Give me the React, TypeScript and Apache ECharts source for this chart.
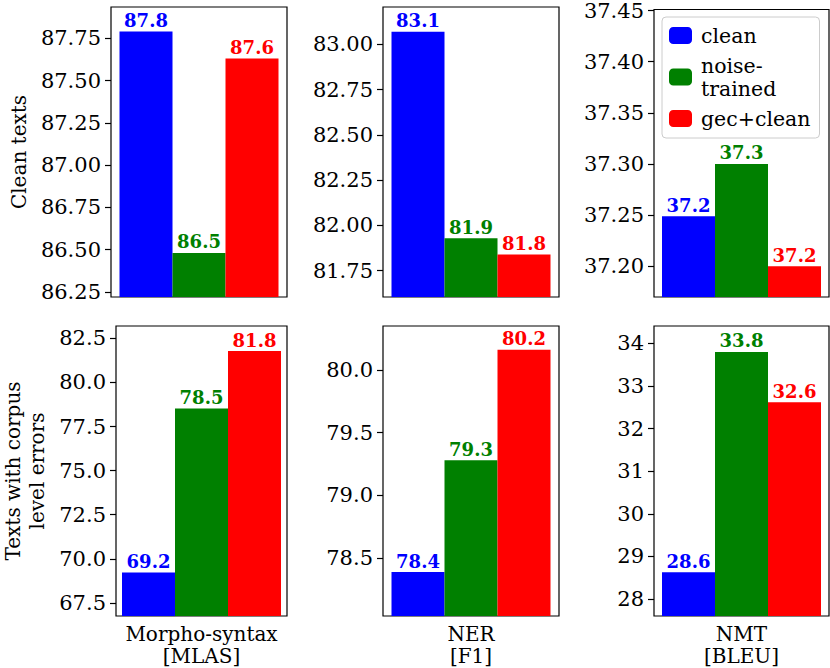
import React, { useEffect, useRef } from "react";
import * as echarts from "echarts";

// ---------- data ----------
const tasks = ["Morpho-syntax\n[MLAS]", "NER\n[F1]", "NMT\n[BLEU]"];
const seriesNames = ["clean", "noise-trained", "gec+clean"];
const seriesColors = ["#0000ff", "#008000", "#ff0000"];
const rowNames = ["Clean texts", "Texts with corpus\nlevel errors"];

// Clean texts row (per task)
const cleanRowClean = [87.79, 83.07, 37.249];
const cleanRowNoise = [86.48, 81.93, 37.3];
const cleanRowGec = [87.63, 81.84, 37.2];

// Texts with corpus level errors row (per task)
const noisyRowClean = [69.22, 78.39, 28.63];
const noisyRowNoise = [78.52, 79.28, 33.8];
const noisyRowGec = [81.78, 80.16, 32.62];

// y-axis ranges
const cleanRowMin = [86.219, 81.605, 37.17];
const cleanRowMax = [87.935, 83.206, 37.451];
const noisyRowMin = [66.76, 78.04, 27.6];
const noisyRowMax = [83.2, 80.35, 34.41];

// tick labels
const ticksMorphoClean = [86.25, 86.5, 86.75, 87.0, 87.25, 87.5, 87.75];
const ticksNerClean = [81.75, 82.0, 82.25, 82.5, 82.75, 83.0];
const ticksNmtClean = [37.2, 37.25, 37.3, 37.35, 37.4, 37.45];
const ticksMorphoNoisy = [67.5, 70.0, 72.5, 75.0, 77.5, 80.0, 82.5];
const ticksNerNoisy = [78.5, 79.0, 79.5, 80.0];
const ticksNmtNoisy = [28, 29, 30, 31, 32, 33, 34];

const cleanRowTicks = [ticksMorphoClean, ticksNerClean, ticksNmtClean];
const noisyRowTicks = [ticksMorphoNoisy, ticksNerNoisy, ticksNmtNoisy];
const cleanRowDecimals = [2, 2, 2];
const noisyRowDecimals = [1, 1, 0];

const FONT = "DejaVu Serif";

export default function App() {
  const ref = useRef<HTMLDivElement>(null);

  useEffect(() => {
    if (!ref.current) return;
    const chart = echarts.init(ref.current, null, { renderer: "svg" });

    const colLeft = [111, 383, 654];
    const colWidth = [176, 176, 175];
    const rowTop = [7, 326];
    const rowHeight = 290;

    const grids: any[] = [];
    const xAxes: any[] = [];
    const yAxes: any[] = [];
    const series: any[] = [];

    const rows = [
      {
        values: [cleanRowClean, cleanRowNoise, cleanRowGec],
        min: cleanRowMin,
        max: cleanRowMax,
        ticks: cleanRowTicks,
        dec: cleanRowDecimals,
      },
      {
        values: [noisyRowClean, noisyRowNoise, noisyRowGec],
        min: noisyRowMin,
        max: noisyRowMax,
        ticks: noisyRowTicks,
        dec: noisyRowDecimals,
      },
    ];

    rows.forEach((row, r) => {
      tasks.forEach((task, c) => {
        const idx = grids.length;
        grids.push({
          left: colLeft[c],
          top: rowTop[r],
          width: colWidth[c],
          height: rowHeight,
          show: true,
          borderColor: "#000",
          borderWidth: 1.2,
          backgroundColor: "#fff",
        });
        xAxes.push({
          type: "category",
          gridIndex: idx,
          data: [task],
          axisTick: { show: false },
          axisLine: { show: false },
          axisLabel: {
            show: r === 1,
            color: "#000",
            fontFamily: FONT,
            fontSize: 20,
            lineHeight: 22,
            margin: 7,
          },
        });
        const dec = row.dec[c];
        yAxes.push({
          type: "value",
          gridIndex: idx,
          min: row.min[c],
          max: row.max[c],
          splitLine: { show: false },
          axisLine: { show: false },
          axisTick: {
            show: true,
            length: 6,
            customValues: row.ticks[c],
            lineStyle: { color: "#000", width: 1.2 },
          },
          axisLabel: {
            customValues: row.ticks[c],
            color: "#000",
            fontFamily: FONT,
            fontSize: 21,
            margin: 10,
            formatter: (v: number) => v.toFixed(dec),
          },
          name: c === 0 ? rowNames[r] : "",
          nameLocation: "middle",
          nameRotate: 90,
          nameGap: r === 0 ? 80 : 67,
          nameTextStyle: {
            color: "#000",
            fontFamily: FONT,
            fontSize: 20,
            lineHeight: 24,
          },
        });
        row.values.forEach((vals, s) => {
          series.push({
            type: "bar",
            name: seriesNames[s],
            xAxisIndex: idx,
            yAxisIndex: idx,
            data: [vals[c]],
            barWidth: 53,
            barGap: "0%",
            itemStyle: { color: seriesColors[s] },
            label: {
              show: true,
              position: "top",
              distance: 2,
              color: seriesColors[s],
              fontFamily: FONT,
              fontWeight: "bold",
              fontSize: 18,
              formatter: (p: any) => Number(p.value).toFixed(1),
            },
          });
        });
      });
    });

    chart.setOption({
      animation: false,
      backgroundColor: "#fff",
      grid: grids,
      xAxis: xAxes,
      yAxis: yAxes,
      series,
      legend: {
        data: seriesNames,
        orient: "vertical",
        left: 662,
        top: 17,
        padding: [7, 9, 8, 7],
        itemGap: 7,
        itemWidth: 23,
        itemHeight: 17,
        backgroundColor: "rgba(255,255,255,0.8)",
        borderColor: "#cccccc",
        borderWidth: 1,
        borderRadius: 4,
        formatter: (n: string) => (n === "noise-trained" ? "noise-\ntrained" : n),
        textStyle: {
          color: "#000",
          fontFamily: FONT,
          fontSize: 20.5,
          lineHeight: 23,
          padding: [0, 0, 0, 4],
        },
        selectedMode: false,
      },
    });

    return () => chart.dispose();
  }, []);

  return (
    <div
      ref={ref}
      style={{ position: "absolute", left: 0, top: 0, width: 830, height: 668 }}
    />
  );
}
